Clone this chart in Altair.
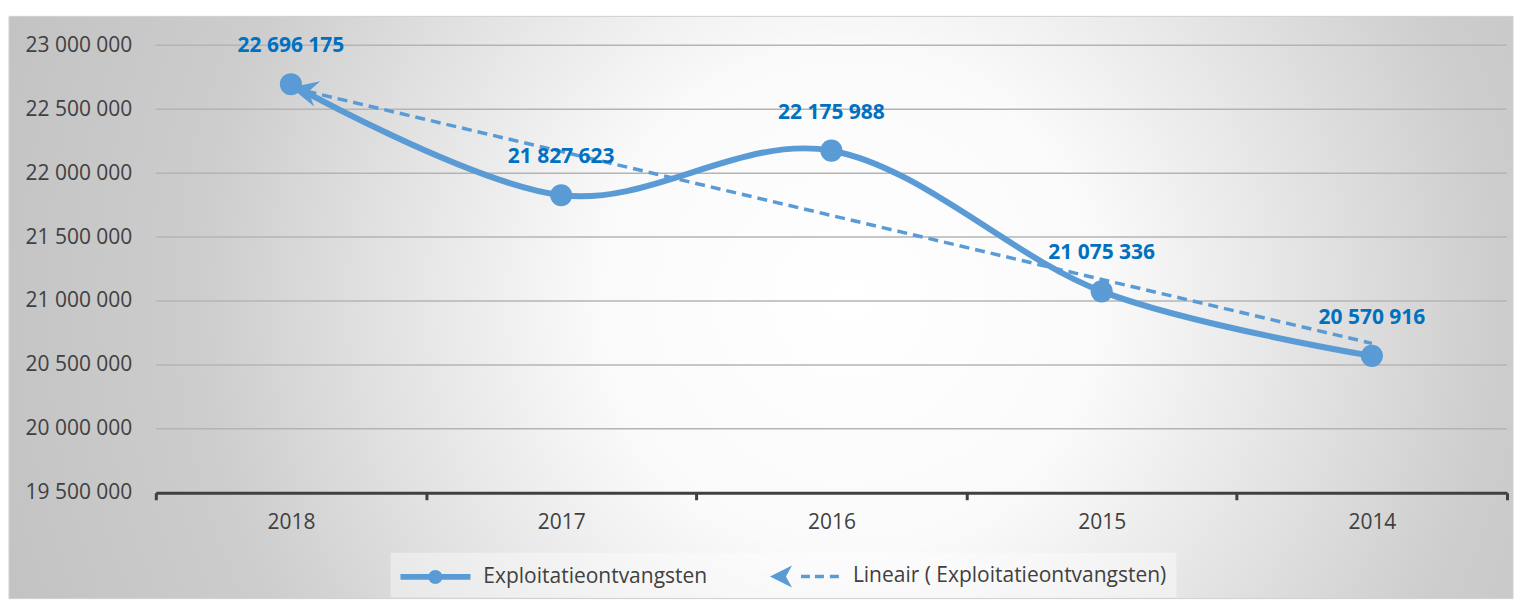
import altair as alt
import pandas as pd

# ---- data ----
JAREN = [2018, 2017, 2016, 2015, 2014]
WAARDEN = [22696175, 21827623, 22175988, 21075336, 20570916]
REEKS = "Exploitatieontvangsten"
TREND = "Lineair ( Exploitatieontvangsten)"
Y_TICKS = [19500000, 20000000, 20500000, 21000000, 21500000, 22000000, 22500000, 23000000]

# ---- style ----
W, H = 1353, 448
FONT = "Open Sans"
FS = 21
BLUE = "#5B9BD5"
LABEL_BLUE = "#0070C0"
TEXT = "#404040"

df = pd.DataFrame({"jaar": JAREN, "waarde": WAARDEN, "reeks": [REEKS] * len(JAREN)})
grid_df = pd.DataFrame({"waarde": Y_TICKS})

band = W / len(JAREN)
xscale = alt.Scale(domain=[min(JAREN) - 0.5, max(JAREN) + 0.5], reverse=True, nice=False, zero=False)
yscale = alt.Scale(domain=[Y_TICKS[0], Y_TICKS[-1]], nice=False, zero=False)

SPACE_FMT = "replace(format({v}, ','), regexp(',', 'g'), ' ')"

x_axis = alt.Axis(
    values=[j + 0.5 for j in JAREN] + [min(JAREN) - 0.5],
    labelExpr=f"datum.value > {min(JAREN)} ? format(datum.value - 0.5, 'd') : ''",
    labelOffset={"condition": {"test": f"datum.value < {min(JAREN)}", "value": 0}, "value": band / 2},
    labelFlush=False, labelOverlap=False,
    grid=False, domainColor=TEXT, domainWidth=3, tickColor=TEXT, tickWidth=3, tickSize=7,
    labelPadding=12, title=None, zindex=1,
)
y_axis = alt.Axis(
    values=Y_TICKS, labelExpr=SPACE_FMT.format(v="datum.value"),
    grid=False, domain=False, ticks=False,
    labelPadding=24, title=None, zindex=1,
)

X = alt.X("jaar:Q", scale=xscale, axis=x_axis)
Y = alt.Y("waarde:Q", scale=yscale, axis=y_axis)

LINE_LEGEND = ("M-1,-0.22L4.19,-0.22L4.19,0.22L-1,0.22Z "
               "M1.07,0A0.52,0.52 0 1,1 2.11,0A0.52,0.52 0 1,1 1.07,0Z")
ARROW_LEGEND = ("M-1,0L0.63,-0.815L0.185,0L0.63,0.815Z "
                "M1.30,-0.13L1.96,-0.13L1.96,0.13L1.30,0.13Z "
                "M2.33,-0.13L3.0,-0.13L3.0,0.13L2.33,0.13Z "
                "M3.44,-0.13L4.11,-0.13L4.11,0.13L3.44,0.13Z")
ARROW = "M0,0L2,-0.96L1.33,0L2,0.96Z"

legend = alt.Legend(
    orient="none", legendX=235, legendY=508, direction="horizontal", title=None,
    labelFont=FONT, labelFontSize=FS, labelColor=TEXT, labelLimit=500,
    symbolSize=729, symbolStrokeWidth=0, symbolOpacity=1,
    labelOffset=56, columnPadding=62, padding=10,
    fillColor="rgba(255,255,255,0.4)",
)
color = alt.Color("reeks:N", scale=alt.Scale(domain=[REEKS, TREND], range=[BLUE, BLUE]), legend=legend)
shape = alt.Shape("reeks:N", scale=alt.Scale(domain=[REEKS, TREND], range=[LINE_LEGEND, ARROW_LEGEND]), legend=legend)

bg = alt.Chart(alt.Data(values=[{}])).mark_rect(
    fill={"gradient": "radial", "x1": 0.559, "y1": 0.496, "r1": 0,
          "x2": 0.559, "y2": 0.496, "r2": 0.6,
          "stops": [{"offset": 0, "color": "#ffffff"},
                    {"offset": 0.28, "color": "#fafafa"},
                    {"offset": 0.5, "color": "#e4e4e4"},
                    {"offset": 0.72, "color": "#cdcdcd"},
                    {"offset": 1, "color": "#c2c2c2"}]},
    stroke="#d0d0d0", strokeWidth=1,
).encode(x=alt.value(-147), x2=alt.value(W + 6), y=alt.value(-29), y2=alt.value(H + 106))

gridlines = alt.Chart(grid_df).mark_rule(color="#b4b4b4", strokeWidth=1.5).encode(y=Y)

base = alt.Chart(df)

line = base.mark_line(color=BLUE, strokeWidth=6, interpolate="cardinal", strokeCap="round").encode(x=X, y=Y)

trend_base = base.transform_regression("jaar", "waarde", method="linear")
trend = trend_base.mark_line(color=BLUE, strokeWidth=3.5, strokeDash=[10, 6]).encode(x=X, y=Y)

arrow = trend_base.transform_filter(f"datum.jaar >= {max(JAREN) - 0.01}").mark_point(
    shape=ARROW, size=729, filled=True, opacity=1, angle=13.4, strokeWidth=0, color=BLUE
).encode(x=X, y=Y)

points = base.mark_point(shape="circle", size=490, filled=True, opacity=1, strokeWidth=0, color=BLUE).encode(
    x=X, y=Y)

# legend-only layer (no rows drawn): carries the series names to the legend
legend_layer = base.transform_filter("false").mark_point(
    filled=True, opacity=1, strokeWidth=0).encode(color=color, shape=shape)

labels = base.transform_calculate(label=SPACE_FMT.format(v="datum.waarde")).mark_text(
    font=FONT, fontSize=FS, fontWeight="bold", color=LABEL_BLUE, dy=-38, baseline="middle"
).encode(x=X, y=Y, text="label:N")

chart = alt.layer(bg, gridlines, line, trend, arrow, points, labels, legend_layer).properties(
    width=W, height=H, padding={"left": 0, "top": 7, "right": 0, "bottom": 0}, background="white"
).configure_axis(
    labelFont=FONT, labelFontSize=FS, labelColor=TEXT
).configure_view(stroke="transparent")

chart.save("out.html", embed_options={"renderer": "svg", "actions": False})
